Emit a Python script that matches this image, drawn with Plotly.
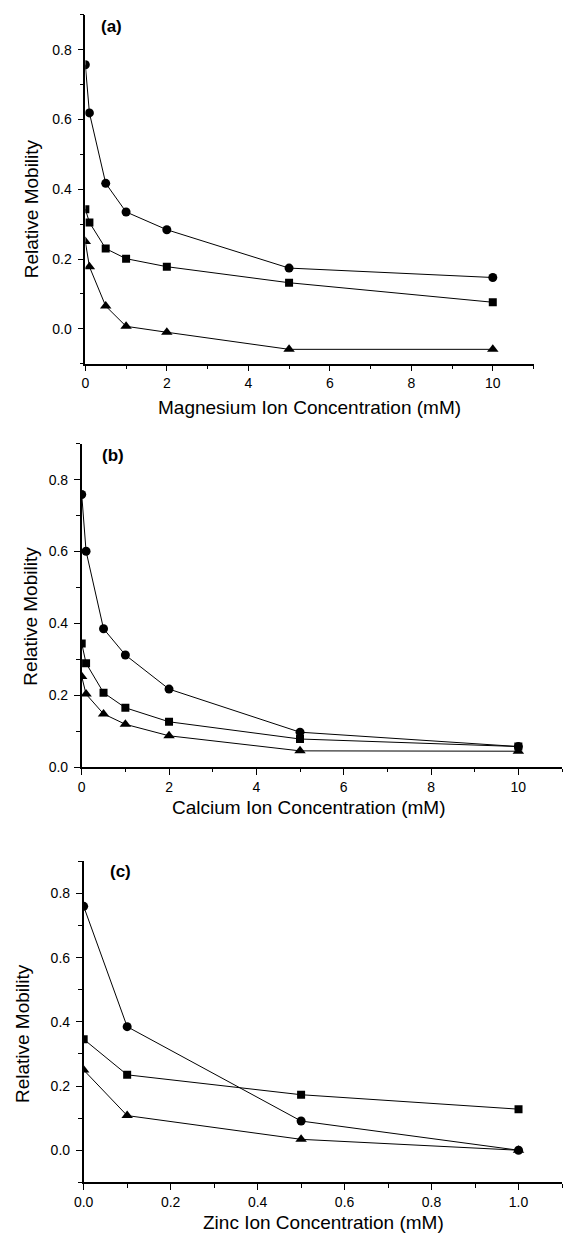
import plotly.graph_objects as go

W, H = 563, 1242

# ---------------- data ----------------
mg_conc = [0, 0.1, 0.5, 1, 2, 5, 10]
mg_circle = [0.757, 0.619, 0.417, 0.335, 0.284, 0.174, 0.147]
mg_square = [0.343, 0.305, 0.230, 0.201, 0.178, 0.132, 0.076]
mg_triangle = [0.250, 0.178, 0.065, 0.007, -0.010, -0.059, -0.059]

ca_conc = [0, 0.1, 0.5, 1, 2, 5, 10]
ca_circle = [0.759, 0.601, 0.385, 0.312, 0.217, 0.097, 0.057]
ca_square = [0.344, 0.289, 0.207, 0.165, 0.126, 0.078, 0.057]
ca_triangle = [0.252, 0.203, 0.148, 0.119, 0.087, 0.045, 0.044]

zn_conc = [0, 0.1, 0.5, 1.0]
zn_circle = [0.760, 0.385, 0.091, 0.0]
zn_square = [0.346, 0.235, 0.173, 0.128]
zn_triangle = [0.250, 0.108, 0.034, 0.0]

panel_labels = ["(a)", "(b)", "(c)"]
x_titles = ["Magnesium Ion Concentration (mM)",
            "Calcium Ion Concentration (mM)",
            "Zinc Ion Concentration (mM)"]
y_title = "Relative Mobility"

FONT = "Liberation Sans, Arial, sans-serif"


def px(x):
    return x / W


def py(y):
    return 1 - y / H


fig = go.Figure()

symbols = [("circle", 9), ("square", 8), ("triangle-up", 10)]
panels = [
    (mg_conc, [mg_circle, mg_square, mg_triangle], "x", "y"),
    (ca_conc, [ca_circle, ca_square, ca_triangle], "x2", "y2"),
    (zn_conc, [zn_circle, zn_square, zn_triangle], "x3", "y3"),
]
for xs, series, xa, ya in panels:
    for (sym, sz), ys in zip(symbols, series):
        fig.add_trace(go.Scatter(
            x=xs, y=ys, mode="lines+markers", xaxis=xa, yaxis=ya,
            line=dict(color="black", width=1),
            marker=dict(symbol=sym, size=sz, color="black", line=dict(width=0)),
            showlegend=False,
        ))

base = dict(
    showline=True, linecolor="black", linewidth=1.6, mirror=False,
    showgrid=False, zeroline=False,
    ticks="outside", ticklen=6, tickwidth=1.4, tickcolor="black",
    tickfont=dict(family=FONT, size=14, color="black"),
)


def xaxis(domain, rng, dtick, minor, fmt, anchor):
    d = dict(base)
    d.update(domain=domain, range=rng, dtick=dtick, tick0=0, tickformat=fmt,
             anchor=anchor,
             minor=dict(dtick=minor, tick0=0, ticks="outside", ticklen=3.5,
                        tickwidth=1.4, tickcolor="black"))
    return d


def yaxis(domain, rng, anchor):
    d = dict(base)
    d.update(domain=domain, range=rng, dtick=0.2, tick0=0, tickformat=".1f",
             anchor=anchor, ticklabelstandoff=3,
             minor=dict(dtick=0.1, tick0=0, ticks="outside", ticklen=3.5,
                        tickwidth=1.4, tickcolor="black"))
    return d


fig.update_layout(
    width=W, height=H, margin=dict(l=0, r=0, t=0, b=0),
    paper_bgcolor="white", plot_bgcolor="white",
    xaxis=xaxis([px(76.7), px(533)], [0, 11], 2, 1, "d", "y"),
    yaxis=yaxis([py(366), py(15)], [-0.1, 0.9], "x"),
    xaxis2=xaxis([px(73), px(562)], [0, 11], 2, 1, "d", "y2"),
    yaxis2=yaxis([py(772), py(446.7)], [0, 0.9], "x2"),
    xaxis3=xaxis([px(75), px(562)], [0, 1.1], 0.2, 0.1, ".1f", "y3"),
    yaxis3=yaxis([py(1190), py(867)], [-0.1, 0.9], "x3"),
)

ann = []
common = dict(xref="paper", yref="paper", showarrow=False,
              xanchor="center", yanchor="middle")
label_pos = [(103.5, 26.5), (105, 458), (112, 877)]
for t, (x, y) in zip(panel_labels, label_pos):
    ann.append(dict(text="<b>%s</b>" % t, x=px(x), y=py(y),
                    font=dict(family=FONT, size=17, color="black"), **common))
xt_pos = [(305, 410), (304, 813), (319, 1230)]
for t, (x, y) in zip(x_titles, xt_pos):
    ann.append(dict(text=t, x=px(x), y=py(y),
                    font=dict(family=FONT, size=19, color="black"), **common))
yt_pos = [(22, 210), (20, 620), (13, 1040)]
for (x, y) in yt_pos:
    ann.append(dict(text=y_title, x=px(x), y=py(y), textangle=-90,
                    font=dict(family=FONT, size=19, color="black"), **common))
fig.update_layout(annotations=ann)

fig.write_html("out.html")
